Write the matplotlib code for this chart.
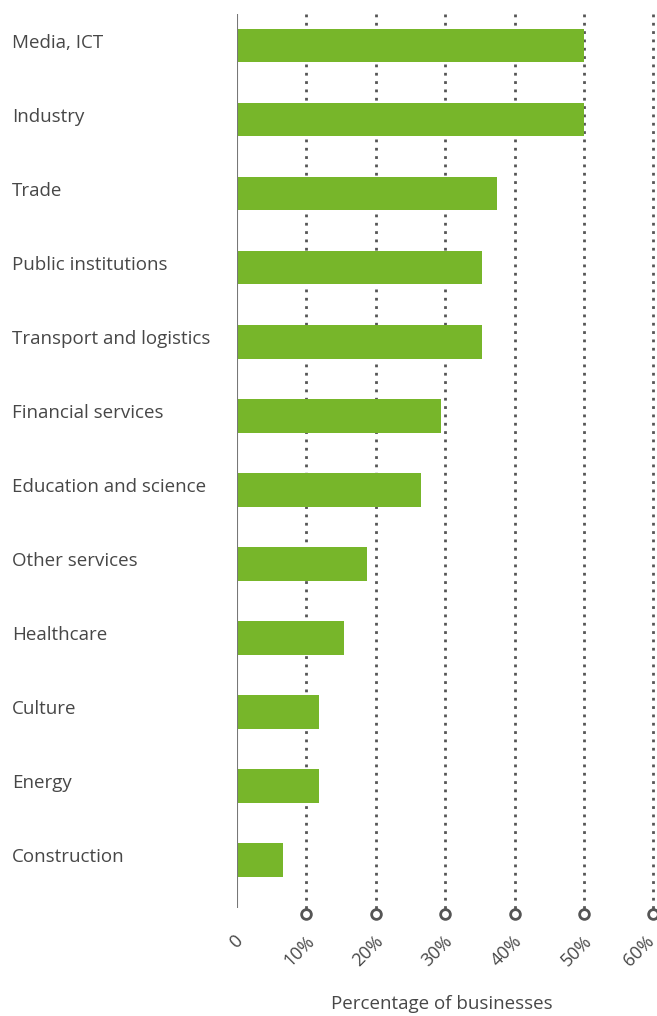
import matplotlib
matplotlib.use("Agg")
import matplotlib.pyplot as plt
import matplotlib.transforms as mtransforms

categories = ["Media, ICT", "Industry", "Trade", "Public institutions",
              "Transport and logistics", "Financial services",
              "Education and science", "Other services", "Healthcare",
              "Culture", "Energy", "Construction"]
values = [50.0, 50.0, 37.5, 35.3, 35.3, 29.4, 26.5, 18.7, 15.4, 11.8, 11.8, 6.6]
ticks = [0, 10, 20, 30, 40, 50, 60]
tick_labels = ["0", "10%", "20%", "30%", "40%", "50%", "60%"]
xlabel = "Percentage of businesses"

W, H = 657, 1016
fig = plt.figure(figsize=(W / 100, H / 100), dpi=100)
plt.rcParams['font.family'] = ['Open Sans', 'DejaVu Sans']
green = "#77b62a"
gray = "#555555"
txt = "#474747"

left, right, top, bottom = 237, 657, 14, 908
ax = fig.add_axes([left / W, 1 - bottom / H, (right - left) / W, (bottom - top) / H])
xmax = (right - left) / 6.94
ax.set_xlim(0, xmax)
ax.set_ylim(len(categories) - 1 + 0.65, -0.43)
for s in ax.spines.values():
    s.set_visible(False)
ax.set_xticks([])
ax.set_yticks([])
ax.patch.set_alpha(0)

y = list(range(len(categories)))
ax.barh(y, values, height=0.45, color=green, zorder=3)

# axis line at 0
ax.axvline(0, color="#777777", lw=1.5, zorder=4)

trans = mtransforms.blended_transform_factory(ax.transData, ax.transAxes)
circ_y = -(914 - bottom) / (bottom - top)
for t in ticks[1:]:
    ax.plot([t, t], [1, circ_y], transform=trans, color=gray, lw=2,
            linestyle=(0, (1, 2)), clip_on=False, zorder=1)
    ax.plot([t], [circ_y], transform=trans, marker="o", ms=7, mfc="white",
            mec=gray, mew=2, clip_on=False, zorder=5)

lab_y = -(938 - bottom) / (bottom - top)
px = 1 / 6.94
for t, lab in zip(ticks, tick_labels):
    ax_x = min(t + 5 * px, xmax - 6 * px)
    if t == 0:
        ax_x = t + 3 * px
    ax.text(ax_x, lab_y, lab, transform=trans, rotation=45, ha="right",
            va="center", rotation_mode="anchor", fontsize=13, color=txt)

ytrans = mtransforms.blended_transform_factory(fig.transFigure, ax.transData)
for yi, c in zip(y, categories):
    ax.text(12 / W, yi - 0.04, c, transform=ytrans, ha="left", va="center",
            fontsize=13.5, color=txt)

fig.text(442 / W, 1 - 1004 / H, xlabel, ha="center", va="center",
         fontsize=13.5, color=txt)

fig.savefig("out.png", dpi=100, facecolor="white")
